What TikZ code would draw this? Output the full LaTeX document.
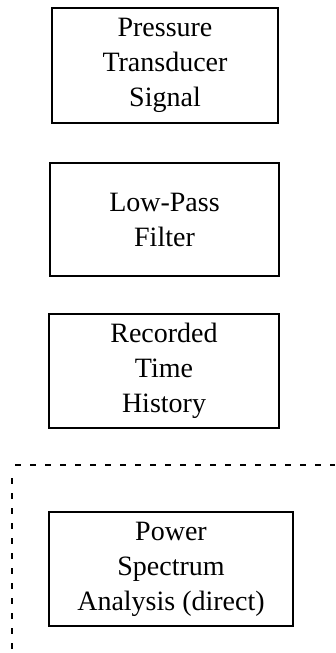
\documentclass[tikz,border=0pt]{standalone}
\usepackage{fontspec}
\setmainfont{Liberation Serif}
\begin{document}
\begin{tikzpicture}[x=1pt,y=-1pt,
  procbox/.style={draw, line width=1.4pt, align=center, inner sep=0pt,
    font=\fontsize{28}{35}\selectfont},
  dotline/.style={line width=2.7pt, dash pattern=on 5.5pt off 9.5pt}]
\useasboundingbox (0,0) rectangle (335,653);
\node[procbox, minimum width=226pt, minimum height=115pt] (sig) at (165,65.5) {Pressure\\Transducer\\Signal};
\node[procbox, minimum width=229pt, minimum height=113pt] (lpf) at (164.5,219.5) {Low-Pass\\Filter};
\node[procbox, minimum width=230pt, minimum height=114pt] (rec) at (164,371) {Recorded\\Time\\History};
\node[procbox, minimum width=244pt, minimum height=114pt] (psa) at (171,569) {Power\\Spectrum\\Analysis (direct)};
\coordinate (hl) at (15,465);
\coordinate (hr) at (335,465);
\coordinate (vt) at (12,478);
\coordinate (vb) at (12,653);
\draw[dotline] (hl) -- (hr);
\draw[dotline] (vt) -- (vb);
\end{tikzpicture}
\end{document}
